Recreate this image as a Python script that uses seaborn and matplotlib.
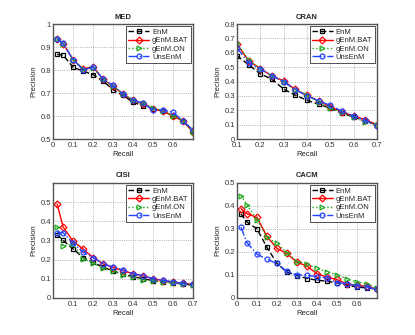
import numpy as np
import pandas as pd
import matplotlib
matplotlib.use("Agg")
import matplotlib.pyplot as plt
import seaborn as sns

sns.set_style("white")
plt.rcParams['font.family'] = ['Liberation Sans', 'DejaVu Sans']

# recall levels
recall = [0.02, 0.05, 0.1, 0.15, 0.2, 0.25, 0.3, 0.35, 0.4, 0.45, 0.5, 0.55, 0.6, 0.65, 0.7]
recall_cran = [0.1, 0.15, 0.2, 0.25, 0.3, 0.35, 0.4, 0.45, 0.5, 0.55, 0.6, 0.65, 0.7]

methods = ["EnM", "gEnM.BAT", "gEnM.ON", "UnsEnM"]

# MED
med_enm = [0.868, 0.865, 0.812, 0.796, 0.78, 0.752, 0.715, 0.69, 0.66, 0.645, 0.632, 0.622, 0.60, 0.58, 0.535]
med_bat = [0.935, 0.915, 0.845, 0.805, 0.815, 0.76, 0.73, 0.695, 0.668, 0.653, 0.63, 0.622, 0.60, 0.578, 0.53]
med_on = [0.935, 0.915, 0.845, 0.805, 0.81, 0.76, 0.73, 0.698, 0.668, 0.655, 0.637, 0.622, 0.60, 0.578, 0.53]
med_uns = [0.937, 0.916, 0.846, 0.80, 0.813, 0.762, 0.733, 0.696, 0.67, 0.655, 0.626, 0.626, 0.617, 0.578, 0.54]

# CRAN
cran_enm = [0.58, 0.517, 0.454, 0.416, 0.348, 0.305, 0.27, 0.242, 0.215, 0.18, 0.155, 0.125, 0.10]
cran_bat = [0.66, 0.545, 0.49, 0.44, 0.405, 0.345, 0.305, 0.265, 0.225, 0.19, 0.16, 0.135, 0.10]
cran_on = [0.67, 0.55, 0.49, 0.44, 0.40, 0.34, 0.305, 0.26, 0.215, 0.185, 0.15, 0.12, 0.10]
cran_uns = [0.635, 0.53, 0.487, 0.44, 0.40, 0.344, 0.30, 0.266, 0.235, 0.193, 0.16, 0.13, 0.094]

# CISI
cisi_enm = [0.33, 0.30, 0.255, 0.21, 0.185, 0.16, 0.14, 0.125, 0.11, 0.10, 0.09, 0.085, 0.078, 0.072, 0.066]
cisi_bat = [0.49, 0.37, 0.295, 0.255, 0.21, 0.178, 0.158, 0.142, 0.126, 0.114, 0.10, 0.09, 0.083, 0.076, 0.07]
cisi_on = [0.37, 0.27, 0.28, 0.205, 0.18, 0.155, 0.138, 0.12, 0.107, 0.095, 0.087, 0.082, 0.076, 0.072, 0.066]
cisi_uns = [0.34, 0.34, 0.285, 0.24, 0.21, 0.178, 0.16, 0.145, 0.125, 0.115, 0.10, 0.092, 0.083, 0.075, 0.07]

# CACM
cacm_enm = [0.365, 0.33, 0.30, 0.22, 0.15, 0.112, 0.097, 0.084, 0.077, 0.072, 0.065, 0.055, 0.047, 0.043, 0.038]
cacm_bat = [0.388, 0.366, 0.35, 0.267, 0.215, 0.193, 0.155, 0.138, 0.105, 0.09, 0.08, 0.06, 0.054, 0.05, 0.038]
cacm_on = [0.445, 0.405, 0.34, 0.263, 0.237, 0.197, 0.158, 0.148, 0.128, 0.113, 0.10, 0.083, 0.068, 0.06, 0.043]
cacm_uns = [0.307, 0.24, 0.19, 0.167, 0.15, 0.115, 0.10, 0.098, 0.092, 0.087, 0.066, 0.062, 0.052, 0.047, 0.037]

styles = {
    "EnM": dict(color="black", marker="s", linestyle=(0, (4, 2))),
    "gEnM.BAT": dict(color="red", marker="D", linestyle="-"),
    "gEnM.ON": dict(color="#22aa22", marker=">", linestyle=":"),
    "UnsEnM": dict(color="#2244ff", marker="o", linestyle="-."),
}

panels = [
    ("MED", recall, [med_enm, med_bat, med_on, med_uns], (0, 0.7), (0.5, 1.0),
     [0, 0.1, 0.2, 0.3, 0.4, 0.5, 0.6], [0.5, 0.6, 0.7, 0.8, 0.9, 1.0]),
    ("CRAN", recall_cran, [cran_enm, cran_bat, cran_on, cran_uns], (0.1, 0.7), (0, 0.8),
     [0.1, 0.2, 0.3, 0.4, 0.5, 0.6, 0.7], [0, 0.1, 0.2, 0.3, 0.4, 0.5, 0.6, 0.7, 0.8]),
    ("CISI", recall, [cisi_enm, cisi_bat, cisi_on, cisi_uns], (0, 0.7), (0, 0.6),
     [0.1, 0.2, 0.3, 0.4, 0.5, 0.6, 0.7], [0, 0.1, 0.2, 0.3, 0.4, 0.5]),
    ("CACM", recall, [cacm_enm, cacm_bat, cacm_on, cacm_uns], (0, 0.7), (0, 0.5),
     [0, 0.1, 0.2, 0.3, 0.4, 0.5, 0.6], [0, 0.1, 0.2, 0.3, 0.4, 0.5]),
]

positions = [
    [0.128, 0.585, 0.337, 0.343],
    [0.571, 0.585, 0.337, 0.343],
    [0.128, 0.111, 0.337, 0.343],
    [0.571, 0.111, 0.337, 0.343],
]

fs = 5.5
fig = plt.figure(figsize=(4.15, 3.35), dpi=100)

for (title, xs, series, xlim, ylim, xt, yt), pos in zip(panels, positions):
    ax = fig.add_axes(pos)
    for name, vals in zip(methods, series):
        st = styles[name]
        df = pd.DataFrame({"Recall": xs, "Precision": vals})
        sns.lineplot(data=df, x="Recall", y="Precision", ax=ax, label=name,
                     color=st["color"], marker=st["marker"], linestyle=st["linestyle"],
                     linewidth=1.0, markersize=3.5, markerfacecolor="none",
                     markeredgecolor=st["color"], markeredgewidth=0.9)
    ax.set_xlim(*xlim)
    ax.set_ylim(*ylim)
    ax.set_xticks(xt)
    ax.set_yticks(yt)
    ax.set_xticklabels([f"{v:g}" for v in xt])
    ax.set_yticklabels([f"{v:g}" for v in yt])
    ax.grid(True, linestyle=":", color="#999999", linewidth=0.6)
    ax.tick_params(direction="in", length=2, labelsize=fs, colors="#333333")
    ax.tick_params(axis="x", pad=2.5)
    ax.tick_params(axis="y", pad=1.5)
    for sp in ax.spines.values():
        sp.set_color("#555555")
        sp.set_linewidth(1.0)
    ax.set_title(title, fontsize=fs, fontweight="bold", pad=4)
    ax.set_xlabel("Recall", fontsize=fs, labelpad=1)
    ax.set_ylabel("Precision", fontsize=fs, labelpad=2)
    leg = ax.legend(loc="upper right", fontsize=fs, frameon=True, fancybox=False,
                    handlelength=2.7, borderpad=0.3, labelspacing=0.12,
                    handletextpad=0.4, borderaxespad=0.3)
    leg.get_frame().set_edgecolor("black")
    leg.get_frame().set_linewidth(0.6)

fig.savefig("out.png", dpi=100)
